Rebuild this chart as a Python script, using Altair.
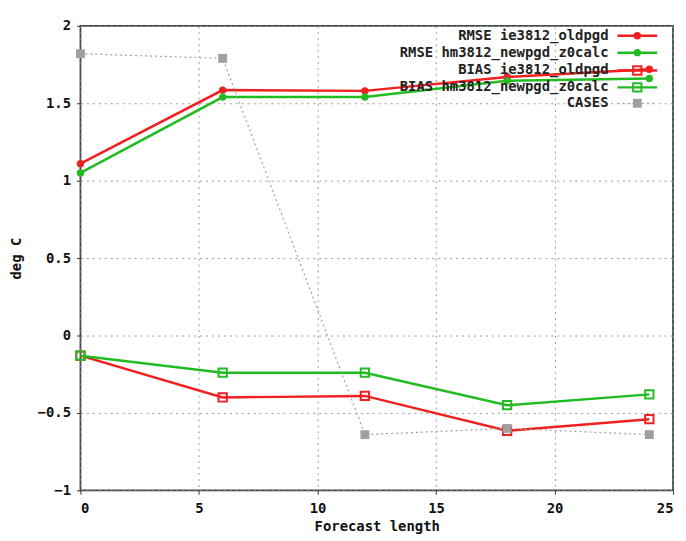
import altair as alt
import pandas as pd

hours = [0, 6, 12, 18, 24]
rmse_ie = [1.11, 1.585, 1.58, 1.67, 1.72]
rmse_hm = [1.05, 1.54, 1.54, 1.645, 1.66]
bias_ie = [-0.13, -0.40, -0.39, -0.615, -0.54]
bias_hm = [-0.13, -0.24, -0.24, -0.45, -0.38]
cases = [1.82, 1.79, -0.64, -0.60, -0.64]

series_names = ["RMSE ie3812_oldpgd", "RMSE hm3812_newpgd_z0calc",
                "BIAS ie3812_oldpgd", "BIAS hm3812_newpgd_z0calc", "CASES"]
series_vals = [rmse_ie, rmse_hm, bias_ie, bias_hm, cases]
colors = ["#f02020", "#22bb22", "#f02020", "#22bb22", "#a0a0a0"]
kinds = ["rmse", "rmse", "bias", "bias", "cases"]

rows = []
for name, vals, k in zip(series_names, series_vals, kinds):
    for h, v in zip(hours, vals):
        rows.append({"series": name, "h": h, "v": v, "kind": k})
df = pd.DataFrame(rows)

color = alt.Color("series:N", scale=alt.Scale(domain=series_names, range=colors), legend=None)
FONT = "DejaVu Sans Mono"

x = alt.X("h:Q", scale=alt.Scale(domain=[0, 25], nice=False),
          axis=alt.Axis(values=[0, 5, 10, 15, 20, 25], title="Forecast length",
                        titlePadding=4, labelPadding=7))
y = alt.Y("v:Q", scale=alt.Scale(domain=[-1, 2], nice=False),
          axis=alt.Axis(values=[-1, -0.5, 0, 0.5, 1, 1.5, 2], title="deg C",
                        format="~g", titlePadding=14, labelPadding=6))

base = alt.Chart(df).encode(x=x, y=y, color=color)

solid = base.transform_filter("datum.kind != 'cases'").mark_line(strokeWidth=2.5)
dotted = base.transform_filter("datum.kind == 'cases'").mark_line(strokeWidth=1.2, strokeDash=[2, 3])
rmse_pts = base.transform_filter("datum.kind == 'rmse'").mark_point(
    shape="circle", filled=True, size=55, opacity=1)
bias_pts = base.transform_filter("datum.kind == 'bias'").mark_point(
    shape="square", filled=False, size=70, strokeWidth=2, opacity=1)
case_pts = base.transform_filter("datum.kind == 'cases'").mark_point(
    shape="square", filled=True, size=80, opacity=1)

# legend (gnuplot style, inside top right)
legend_rows_px = [10, 27, 45, 62, 78]
legend_layers = []
for name, k, col, ypx in zip(series_names, kinds, colors, legend_rows_px):
    one = pd.DataFrame({"series": [name]})
    lb = alt.Chart(one).encode(y=alt.value(ypx))
    legend_layers.append(lb.mark_text(align="right", baseline="middle", font=FONT,
                                      fontWeight="bold", fontSize=14, color="#222")
                         .encode(x=alt.value(532), text="series:N"))
    if k == "cases":
        legend_layers.append(lb.mark_rule(strokeWidth=1.2, strokeDash=[2, 3], color=col)
                             .encode(x=alt.value(541), x2=alt.value(581)))
        legend_layers.append(lb.mark_point(shape="square", filled=True, size=80, opacity=1, color=col)
                             .encode(x=alt.value(561)))
    else:
        legend_layers.append(lb.mark_rule(strokeWidth=2.5, color=col)
                             .encode(x=alt.value(541), x2=alt.value(581)))
        if k == "rmse":
            legend_layers.append(lb.mark_point(shape="circle", filled=True, size=55, opacity=1, color=col)
                                 .encode(x=alt.value(561)))
        else:
            legend_layers.append(lb.mark_point(shape="square", filled=False, size=70, strokeWidth=2,
                                               opacity=1, color=col).encode(x=alt.value(561)))

chart = alt.layer(solid, dotted, rmse_pts, bias_pts, case_pts, *legend_layers).properties(
    width=597, height=468,
    autosize=alt.AutoSizeParams(type="none"),
    padding={"left": 73, "top": 16, "right": 5, "bottom": 45},
    background="white",
).configure_view(stroke="#444", strokeWidth=1.8).configure_axis(
    labelFont=FONT, labelFontWeight="bold", labelFontSize=14, labelColor="#111",
    titleFont=FONT, titleFontWeight="bold", titleFontSize=14, titleColor="#111",
    grid=True, gridColor="#999", gridDash=[2, 4], gridWidth=1,
    domain=False, tickSize=4, tickColor="#333",
)

chart.save("out.html", embed_options={"renderer": "svg", "actions": False})
